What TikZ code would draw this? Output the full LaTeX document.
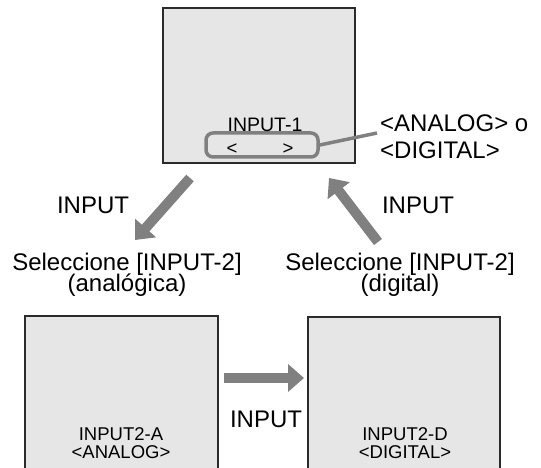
\documentclass[tikz,border=0pt]{standalone}
\usepackage{fontspec}
\setmainfont{Liberation Sans}
\usetikzlibrary{arrows.meta, positioning}
\definecolor{screengray}{HTML}{E6E6E6}
\definecolor{arrowgray}{HTML}{808080}
\definecolor{framegray}{HTML}{2B2B2B}
\newcommand\bigtxt{\fontsize{24}{21}\selectfont\setlength{\lineskiplimit}{-20pt}}
\newcommand\smalltxt{\fontsize{18.5}{18}\selectfont\setlength{\lineskiplimit}{-20pt}}

\begin{document}
\begin{tikzpicture}[x=1pt, y=-1pt,
    screen/.style={draw=framegray, line width=1.4pt, fill=screengray, inner sep=0pt},
    selbox/.style={draw=arrowgray, line width=3.5pt, rounded corners=7pt, inner sep=0pt},
    big/.style={font=\bigtxt, inner sep=0pt, align=center},
    small/.style={font=\smalltxt, inner sep=0pt, align=center},
    bigarrow/.style={line width=10pt, draw=arrowgray, -{Triangle[length=16pt, width=27pt]}},
    callout/.style={line width=3.5pt, draw=arrowgray}
]
\clip (0,0) rectangle (541,468);

% Screens
\node[screen, minimum width=192pt, minimum height=155pt] (scr1) at (259,85.5) {};
\node[screen, minimum width=193pt, minimum height=159pt] (scrA) at (121.5,395.5) {};
\node[screen, minimum width=192pt, minimum height=158pt] (scrD) at (404,396) {};

% Input selector on top screen
\node[selbox, minimum width=112pt, minimum height=24pt] (sel) at (262,145) {};
\node[small, font=\fontsize{19.5}{20}\selectfont, anchor=base] (in1) at (265,132) {INPUT-1};
\node[small, anchor=base] (lt) at (232,154) {<};
\node[small, anchor=base] (gt) at (288,154) {>};

% Callout
\coordinate (callend) at (377,133);
\draw[callout] (sel.east) -- (callend);
\node[font=\fontsize{24}{27}\selectfont, inner sep=0pt, align=left, anchor=base west] (mode) at (380,159) {<ANALOG> o\\<DIGITAL>};

% Arrows between screens
\coordinate (dnS) at (190,178);
\coordinate (dnE) at (135,240);
\coordinate (upS) at (378,242);
\coordinate (upE) at (329,178);
\coordinate (hzS) at (224,378);
\coordinate (hzE) at (304,378);
\draw[bigarrow] (dnS) -- (dnE);
\draw[bigarrow] (upS) -- (upE);
\draw[bigarrow] (hzS) -- (hzE);

% Labels
\node[big, anchor=base] (inL) at (93,213) {INPUT};
\node[big, anchor=base] (inR) at (418,213) {INPUT};
\node[big, anchor=base] (inM) at (266,427) {INPUT};
\node[big, anchor=base] (selA) at (127,291) {Seleccione [INPUT-2]\\(analógica)};
\node[big, anchor=base] (selD) at (400,291) {Seleccione [INPUT-2]\\(digital)};
\node[small, anchor=base] (lblA) at (121,458) {INPUT2-A\\<ANALOG>};
\node[small, anchor=base] (lblD) at (405,458) {INPUT2-D\\<DIGITAL>};

\end{tikzpicture}
\end{document}
